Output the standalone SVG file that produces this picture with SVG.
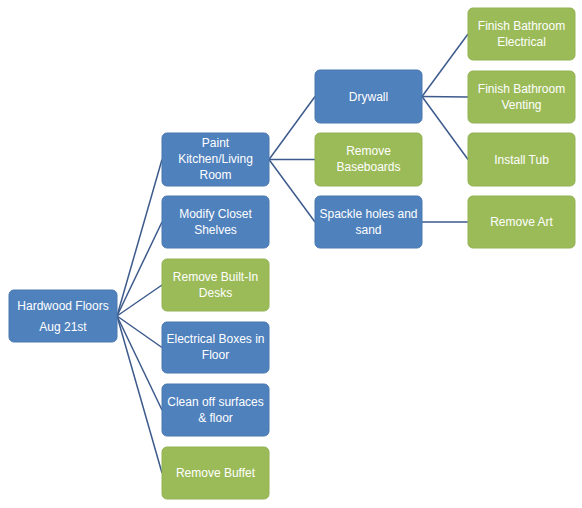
<svg xmlns="http://www.w3.org/2000/svg" width="582" height="508" viewBox="0 0 582 508">
<style>
.b{fill:#4F81BD;stroke:#4A78B0;stroke-width:1}
.g{fill:#9BBB59;stroke:#93B254;stroke-width:1}
text{font-family:"Liberation Sans",Arial,sans-serif;font-size:12px;fill:#FFFFFF;text-anchor:middle}
.c path{fill:none;stroke:#3C5A8C;stroke-width:1.5}
</style>
<rect width="582" height="508" fill="#FFFFFF"/>
<g class="c" id="connectors">
<path d="M117,316 L162,159.5"/>
<path d="M117,316 L162,222"/>
<path d="M117,316 L162,285"/>
<path d="M117,316 L162,347.5"/>
<path d="M117,316 L162,410"/>
<path d="M117,316 L162,473"/>
<path d="M269,159.5 L315,96.5"/>
<path d="M269,159.5 L315,159.5"/>
<path d="M269,159.5 L315,222"/>
<path d="M422,96.5 L468,34"/>
<path d="M422,96.5 L468,97"/>
<path d="M422,96.5 L468,159.5"/>
<path d="M422,222 L468,222"/>
</g>
<g id="root"><rect class="b" x="9" y="290" width="108" height="52" rx="5"/><text x="63" y="310">Hardwood Floors</text><text x="63" y="331">Aug 21st</text></g>
<g id="paint"><rect class="b" x="162" y="133" width="107" height="53" rx="5"/><text x="215.5" y="147">Paint</text><text x="215.5" y="163">Kitchen/Living</text><text x="215.5" y="179">Room</text></g>
<g id="closet"><rect class="b" x="162" y="196" width="107" height="52" rx="5"/><text x="215.5" y="218">Modify Closet</text><text x="215.5" y="234">Shelves</text></g>
<g id="desks"><rect class="g" x="162" y="259" width="107" height="52" rx="5"/><text x="215.5" y="281">Remove Built-In</text><text x="215.5" y="297">Desks</text></g>
<g id="boxes"><rect class="b" x="162" y="322" width="107" height="51" rx="5"/><text x="215.5" y="343">Electrical Boxes in</text><text x="215.5" y="359">Floor</text></g>
<g id="clean"><rect class="b" x="162" y="384" width="107" height="52" rx="5"/><text x="215.5" y="406">Clean off surfaces</text><text x="215.5" y="422">&amp; floor</text></g>
<g id="buffet"><rect class="g" x="162" y="447" width="107" height="52" rx="5"/><text x="215.5" y="477">Remove Buffet</text></g>
<g id="drywall"><rect class="b" x="315" y="70" width="107" height="53" rx="5"/><text x="368.5" y="101">Drywall</text></g>
<g id="baseboards"><rect class="g" x="315" y="133" width="107" height="53" rx="5"/><text x="368.5" y="155">Remove</text><text x="368.5" y="171">Baseboards</text></g>
<g id="spackle"><rect class="b" x="315" y="196" width="107" height="52" rx="5"/><text x="368.5" y="218">Spackle holes and</text><text x="368.5" y="234">sand</text></g>
<g id="electrical"><rect class="g" x="468" y="8" width="107" height="52" rx="5"/><text x="521.5" y="30">Finish Bathroom</text><text x="521.5" y="46">Electrical</text></g>
<g id="venting"><rect class="g" x="468" y="71" width="107" height="52" rx="5"/><text x="521.5" y="93">Finish Bathroom</text><text x="521.5" y="109">Venting</text></g>
<g id="tub"><rect class="g" x="468" y="133" width="107" height="53" rx="5"/><text x="521.5" y="164">Install Tub</text></g>
<g id="art"><rect class="g" x="468" y="196" width="107" height="52" rx="5"/><text x="521.5" y="226">Remove Art</text></g>
</svg>
